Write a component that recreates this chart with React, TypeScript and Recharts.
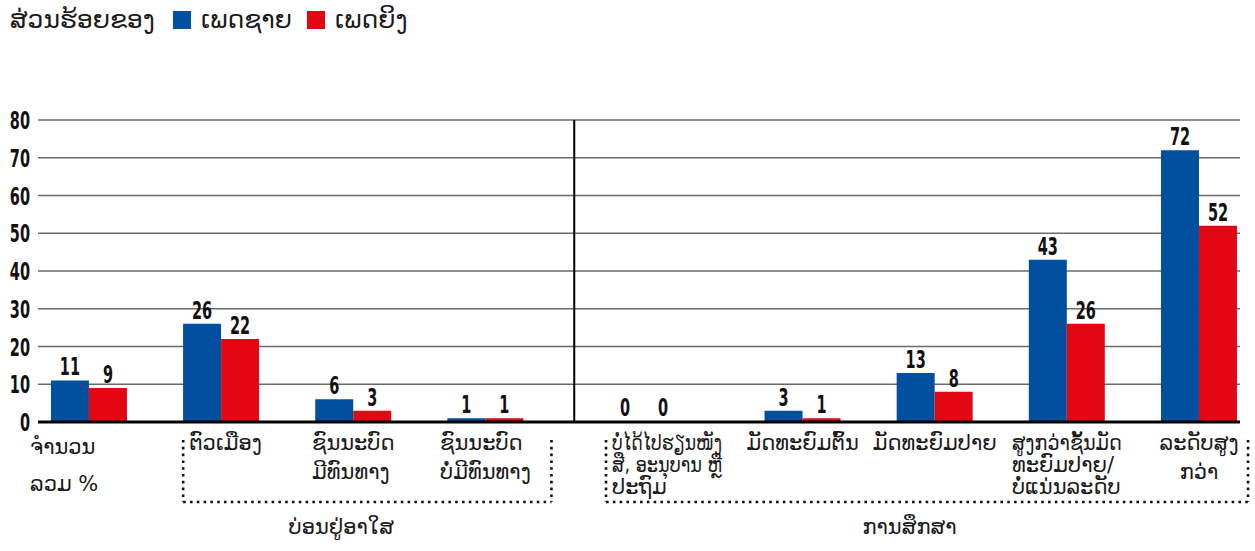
import React from 'react';
import { BarChart, Bar, XAxis, YAxis, CartesianGrid, LabelList, ReferenceLine } from 'recharts';

// category labels, one entry per line as printed under the axis
const categories: string[][] = [
  ['ຈຳນວນ', 'ລວມ %'],
  ['ຕົວເມືອງ'],
  ['ຊົນນະບົດ', 'ມີທົນທາງ'],
  ['ຊົນນະບົດ', 'ບໍ່ມີທົນທາງ'],
  ['ບໍ່ໄດ້ໄປຮຽນໜັງ', 'ສື, ອະນຸບານ ຫຼື', 'ປະຖົມ'],
  ['ມັດທະຍົມຕົ້ນ'],
  ['ມັດທະຍົມປາຍ'],
  ['ສູງກວ່າຊັ້ນມັດ', 'ທະຍົມປາຍ/', 'ບໍ່ແນ່ນລະດັບ'],
  ['ລະດັບສູງ', 'ກວ່າ'],
];

const maleValues = [11, 26, 6, 1, 0, 3, 13, 43, 72];
const femaleValues = [9, 22, 3, 1, 0, 1, 8, 26, 52];

const yTicks = [0, 10, 20, 30, 40, 50, 60, 70, 80];

const legendTitle = 'ສ່ວນຮ້ອຍຂອງ';
const series = [
  { key: 'male', name: 'ເພດຊາຍ', color: '#00509f' },
  { key: 'female', name: 'ເພດຍິງ', color: '#e30613' },
];

const groups = [
  { name: 'ບ່ອນຢູ່ອາໃສ', first: 1, last: 3 },
  { name: 'ການສຶກສາ', first: 4, last: 8 },
];

// the columns next to the separator get a little extra room
const GAP = 0.2;
const slots = categories.map((_, i) => i + (i > 3 ? GAP : 0) + (i > 4 ? GAP : 0));
const separatorSlot = slots[3] + (slots[4] - slots[3]) * 0.56;

const data = categories.map((lines, i) => ({
  name: lines.join(' '),
  slot: slots[i],
  male: maleValues[i],
  female: femaleValues[i],
}));

const W = 1255;
const H = 551;
const Y_W = 38;
const MARGIN = { top: 120, right: 15, bottom: 4, left: 0 };
const X_DOMAIN: [number, number] = [-0.386, 8.71];
const PX_PER_UNIT = (W - MARGIN.left - MARGIN.right - Y_W) / (X_DOMAIN[1] - X_DOMAIN[0]);

const LAO_FONT = '"DejaVu Sans", "Noto Sans", sans-serif';
const NUM_FONT = '"DejaVu Sans", sans-serif';
const LABEL_SIZE = 21;
const NUM_SIZE = 25;
const NUM_SQUEEZE = 0.58;
const MULTILINE_MAX = 110;

let ctx: CanvasRenderingContext2D | null = null;
function textWidth(s: string) {
  if (!ctx && typeof document !== 'undefined') ctx = document.createElement('canvas').getContext('2d');
  if (!ctx) return s.length * 10;
  ctx.font = `${LABEL_SIZE}px ${LAO_FONT}`;
  return ctx.measureText(s).width;
}

// tall, narrow bold digits like the printed figure
function NumText({ x, y, anchor, children }: { x: number; y: number; anchor: 'start' | 'middle' | 'end'; children: any }) {
  return (
    <text
      transform={`translate(${x},${y}) scale(${NUM_SQUEEZE},1)`}
      textAnchor={anchor}
      fontSize={NUM_SIZE}
      fontWeight={700}
      fontFamily={NUM_FONT}
      fill="#111"
    >
      {children}
    </text>
  );
}

function YTick(props: any) {
  const { x, y, payload } = props;
  return (
    <NumText x={x} y={y + 9} anchor="end">
      {payload.value}
    </NumText>
  );
}

function ValueLabel(props: any) {
  const { x, y, width, value } = props;
  return (
    <NumText x={x + width / 2} y={y - 5} anchor="middle">
      {value}
    </NumText>
  );
}

const dotted = { stroke: '#111', strokeWidth: 2.6, strokeDasharray: '2.6 4.2', fill: 'none' };

function CategoryTick(props: any) {
  const { x, y, index } = props;
  const lines = categories[index];
  if (!lines) return null;
  const centered = index === categories.length - 1;
  const multi = lines.length > 1;
  const lh = lines.length > 2 ? 22 : index === 0 ? 37 : 29;
  const widths = lines.map((l) => (multi ? Math.min(textWidth(l), MULTILINE_MAX) : textWidth(l)));
  const blockW = Math.max(...widths);
  const group = groups.find((g) => g.first === index);
  let startX = x - blockW / 2;
  if (group) startX = x - 32;
  if (index === 0) startX = x - 59;

  let bracket = null;
  if (group) {
    const lastX = x + (slots[group.last] - slots[group.first]) * PX_PER_UNIT;
    const left = x - 38;
    const right = group.first === 1 ? lastX + 66 : lastX + 49;
    const top = y + 18;
    const bottom = y + 80;
    bracket = (
      <g>
        <path d={`M${left},${top} L${left},${bottom}`} {...dotted} />
        <path d={`M${right},${top} L${right},${bottom}`} {...dotted} />
        <path d={`M${left},${bottom} L${right},${bottom}`} {...dotted} />
        <text
          x={(x + lastX) / 2 - 12}
          y={y + 112}
          textAnchor="middle"
          fontSize={LABEL_SIZE}
          fontFamily={LAO_FONT}
          fill="#1a1a1a"
        >
          {group.name}
        </text>
      </g>
    );
  }

  return (
    <g>
      {lines.map((line, i) => {
        const squeeze = multi && textWidth(line) > MULTILINE_MAX;
        return (
          <text
            key={i}
            x={centered ? x : startX}
            y={y + 28 + (index === 0 ? 4 : 0) + i * lh}
            textAnchor={centered ? 'middle' : 'start'}
            fontSize={LABEL_SIZE}
            fontFamily={LAO_FONT}
            fill="#1a1a1a"
            textLength={squeeze ? MULTILINE_MAX : undefined}
            lengthAdjust={squeeze ? 'spacingAndGlyphs' : undefined}
          >
            {line}
          </text>
        );
      })}
      {bracket}
    </g>
  );
}

function Legend() {
  return (
    <div
      style={{
        position: 'absolute',
        left: 10,
        top: 5,
        display: 'flex',
        alignItems: 'center',
        fontFamily: LAO_FONT,
        fontSize: 25,
        color: '#1a1a1a',
        whiteSpace: 'nowrap',
      }}
    >
      <span style={{ marginRight: 18 }}>{legendTitle}</span>
      {series.map((s) => (
        <span key={s.key} style={{ display: 'flex', alignItems: 'center', marginRight: 15 }}>
          <span style={{ width: 18, height: 18, background: s.color, marginRight: 10 }} />
          {s.name}
        </span>
      ))}
    </div>
  );
}

export default function App() {
  return (
    <div style={{ position: 'absolute', left: 0, top: 0, width: W, height: H, background: '#fff' }}>
      <Legend />
      <BarChart width={W} height={H} data={data} margin={MARGIN} barGap={0}>
        <CartesianGrid vertical={false} stroke="#6a6a6a" strokeWidth={1.5} />
        <XAxis
          type="number"
          dataKey="slot"
          domain={X_DOMAIN}
          ticks={slots}
          interval={0}
          height={125}
          tickLine={false}
          tickSize={0}
          tickMargin={0}
          axisLine={{ stroke: '#000', strokeWidth: 3 }}
          tick={<CategoryTick />}
        />
        <YAxis
          width={Y_W}
          domain={[0, 80]}
          ticks={yTicks}
          axisLine={false}
          tickLine={false}
          tickSize={0}
          tickMargin={8}
          tick={<YTick />}
        />
        <ReferenceLine x={separatorSlot} stroke="#000" strokeWidth={2} />
        {series.map((s) => (
          <Bar
            key={s.key}
            dataKey={s.key}
            name={s.name}
            fill={s.color}
            barSize={38}
            minPointSize={1}
            isAnimationActive={false}
          >
            <LabelList dataKey={s.key} content={<ValueLabel />} />
          </Bar>
        ))}
      </BarChart>
    </div>
  );
}
